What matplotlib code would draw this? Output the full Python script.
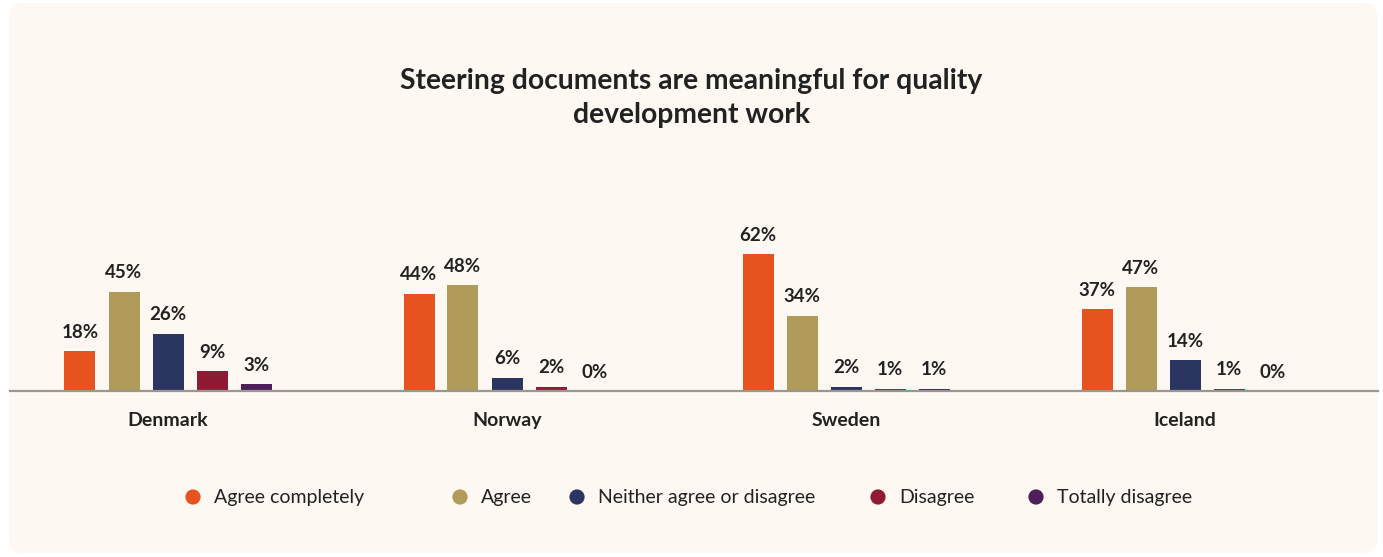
import matplotlib
matplotlib.use("Agg")
import matplotlib.pyplot as plt
from matplotlib.patches import FancyBboxPatch
import numpy as np

countries = ["Denmark", "Norway", "Sweden", "Iceland"]
series_names = ["Agree completely", "Agree", "Neither agree or disagree", "Disagree", "Totally disagree"]
agree_completely = [18, 44, 62, 37]
agree = [45, 48, 34, 47]
neither = [26, 6, 2, 14]
disagree = [9, 2, 1, 1]
totally_disagree = [3, 0, 1, 0]
series_values = [agree_completely, agree, neither, disagree, totally_disagree]
colors = ["#E8521F", "#B09B5B", "#2B3561", "#8E1B33", "#4E1F5B"]

title = "Steering documents are meaningful for quality\ndevelopment work"

W, H = 1383, 557
fig = plt.figure(figsize=(W / 100, H / 100), dpi=100)
fig.patch.set_facecolor("white")

# background panel
bg = fig.add_axes([0, 0, 1, 1], zorder=0)
bg.set_xlim(0, W)
bg.set_ylim(H, 0)
bg.axis("off")
bg.add_patch(FancyBboxPatch((9, 3), 1369, 550, boxstyle="round,pad=0,rounding_size=14",
                            facecolor="#FDF8F1", edgecolor="none"))

FONT = "Lato"
TXT = "#222222"

# main axes in pixel terms
ax_left, ax_right = 10, 1378
base_y, top_y = 391, 170
ax = fig.add_axes([ax_left / W, 1 - base_y / H, (ax_right - ax_left) / W, (base_y - top_y) / H], zorder=1)
ax.patch.set_alpha(0)
spacing = 339.0
x0 = (ax_left - 168) / spacing
x1 = (ax_right - 168) / spacing
ax.set_xlim(x0, x1)
ymax = (base_y - top_y) / 2.21
ax.set_ylim(0, ymax)

offset = 44 / spacing
width = 31 / spacing
x = np.arange(len(countries))
for i, (vals, col) in enumerate(zip(series_values, colors)):
    pos = x + (i - 2) * offset
    ax.bar(pos, vals, width=width, color=col, zorder=2)
    for p, v in zip(pos, vals):
        ax.annotate(f"{v}%", (p, v), xytext=(0, 7.5), textcoords="offset points",
                    ha="center", va="bottom", fontsize=13.5, fontweight="bold",
                    color=TXT, family=FONT)

for s in ["top", "right", "left"]:
    ax.spines[s].set_visible(False)
ax.spines["bottom"].set_color("#9A9690")
ax.spines["bottom"].set_linewidth(1.6)
ax.set_yticks([])
ax.set_xticks(x)
ax.set_xticklabels(countries, fontsize=14, fontweight="bold", color=TXT, family=FONT)
ax.tick_params(axis="x", length=0, pad=15)

fig.text(0.5, 1 - 98 / H, title, ha="center", va="center", fontsize=20.3, fontweight="bold",
         color=TXT, family=FONT, linespacing=1.4)

# legend
leg_marker_x = [193, 460, 577, 878, 1036]
leg_y = 497
for mx, name, col in zip(leg_marker_x, series_names, colors):
    bg.scatter([mx], [leg_y], s=120, color=col, edgecolor="none", zorder=3)
    bg.text(mx + 21, leg_y, name, ha="left", va="center", fontsize=14, color=TXT, family=FONT)

fig.savefig("out.png", dpi=100, facecolor="white")
